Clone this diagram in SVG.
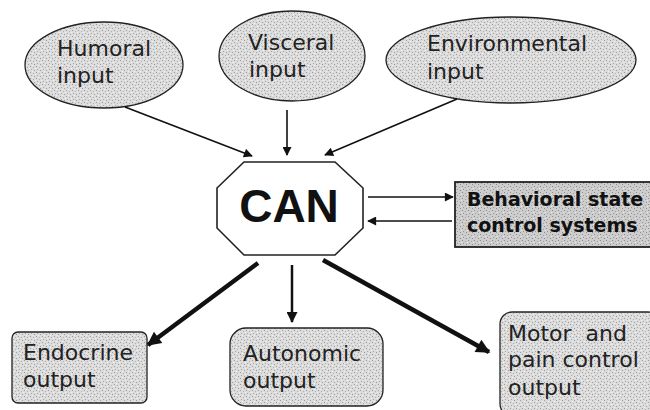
<svg xmlns="http://www.w3.org/2000/svg" width="650" height="410" viewBox="0 0 650 410">
<defs>
<pattern id="speck" width="6" height="6" patternUnits="userSpaceOnUse">
<rect width="6" height="6" fill="#dcdcdc"/>
<rect x="0" y="0" width="1" height="1" fill="#9c9c9c"/>
<rect x="3" y="1" width="1" height="1" fill="#b0b0b0"/>
<rect x="1" y="3" width="1" height="1" fill="#a8a8a8"/>
<rect x="4" y="4" width="1" height="1" fill="#9c9c9c"/>
<rect x="5" y="2" width="1" height="1" fill="#f2f2f2"/>
<rect x="2" y="5" width="1" height="1" fill="#f2f2f2"/>
</pattern>
<pattern id="speckd" width="6" height="6" patternUnits="userSpaceOnUse">
<rect width="6" height="6" fill="#cdcdcd"/>
<rect x="0" y="0" width="1" height="1" fill="#8c8c8c"/>
<rect x="3" y="1" width="1" height="1" fill="#a0a0a0"/>
<rect x="1" y="3" width="1" height="1" fill="#989898"/>
<rect x="4" y="4" width="1" height="1" fill="#8c8c8c"/>
<rect x="5" y="2" width="1" height="1" fill="#e8e8e8"/>
</pattern>
<marker id="ah" viewBox="0 0 10 10" refX="9" refY="5" markerWidth="12" markerHeight="9" markerUnits="userSpaceOnUse" orient="auto"><path d="M0,0 L10,5 L0,10 Z" fill="#111"/></marker>
<marker id="ahb" viewBox="0 0 10 10" refX="9" refY="5" markerWidth="20" markerHeight="14" markerUnits="userSpaceOnUse" orient="auto"><path d="M0,0 L10,5 L0,10 Z" fill="#111"/></marker>
<marker id="ahm" viewBox="0 0 10 10" refX="9" refY="5" markerWidth="17" markerHeight="11" markerUnits="userSpaceOnUse" orient="auto"><path d="M0,0 L10,5 L0,10 Z" fill="#111"/></marker>
</defs>
<style>
.node{fill:url(#speck);stroke:#222;stroke-width:1.3}
.dark{fill:url(#speckd);stroke:#222;stroke-width:1.8}
.t{font-family:"DejaVu Sans",sans-serif;font-size:22px;fill:#222;white-space:pre}
.b{font-family:"DejaVu Sans",sans-serif;font-size:19px;font-weight:bold;fill:#111}
.thin{stroke:#111;stroke-width:1.6;fill:none;marker-end:url(#ah)}
.thick{stroke:#111;stroke-width:4.5;fill:none;marker-end:url(#ahb)}
.med{stroke:#111;stroke-width:2.5;fill:none;marker-end:url(#ahm)}
</style>
<rect width="650" height="410" fill="#fff"/>
<g id="humoral"><ellipse class="node" cx="104" cy="65" rx="79" ry="43"/><text class="t" x="57" y="56">Humoral</text><text class="t" x="57" y="83">input</text></g>
<g id="visceral"><ellipse class="node" cx="292" cy="56" rx="73" ry="45"/><text class="t" x="248" y="50">Visceral</text><text class="t" x="249" y="77">input</text></g>
<g id="environmental"><ellipse class="node" cx="511" cy="60" rx="125" ry="43"/><text class="t" x="427" y="51">Environmental</text><text class="t" x="427" y="79">input</text></g>
<g id="can"><polygon points="244,162 335,162 363,188 363,228 335,255 244,255 217,228 217,188" fill="#fff" stroke="#222" stroke-width="1.6"/><text x="289" y="222" text-anchor="middle" font-family="Liberation Sans,Arial,sans-serif" font-size="46" font-weight="bold" fill="#111">CAN</text></g>
<g id="behavioral"><rect class="dark" x="455" y="182" width="200" height="65"/><text class="b" x="467" y="206">Behavioral state</text><text class="b" x="467" y="232">control systems</text></g>
<g id="endocrine"><rect class="node" x="12" y="332" width="135" height="71" rx="6"/><text class="t" x="23" y="360">Endocrine</text><text class="t" x="23" y="387">output</text></g>
<g id="autonomic"><rect class="node" x="230" y="328" width="153" height="78" rx="16"/><text class="t" x="243" y="361">Autonomic</text><text class="t" x="243" y="388">output</text></g>
<g id="motor"><rect class="node" x="500" y="312" width="160" height="104" rx="12"/><text class="t" x="508" y="341" xml:space="preserve">Motor  and</text><text class="t" x="508" y="367">pain control</text><text class="t" x="508" y="395">output</text></g>
<g id="connectors">
<line class="thin" x1="125" y1="107" x2="252" y2="156"/>
<line class="thin" x1="287" y1="110" x2="287" y2="155"/>
<line class="thin" x1="457" y1="99" x2="325" y2="155"/>
<line class="thin" x1="368" y1="197" x2="453" y2="197"/>
<line class="thin" x1="452" y1="221" x2="368" y2="221"/>
<line class="thick" x1="258" y1="263" x2="148" y2="345"/>
<line class="med" x1="292" y1="265" x2="292" y2="322"/>
<line class="thick" x1="323" y1="260" x2="489" y2="352"/>
</g>
</svg>
